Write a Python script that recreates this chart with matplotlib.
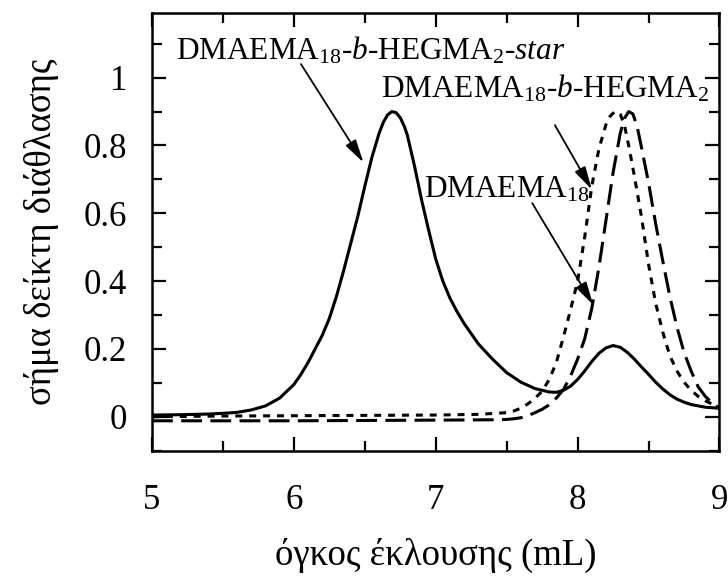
import matplotlib
matplotlib.use("Agg")
import matplotlib.pyplot as plt
from matplotlib.ticker import MultipleLocator

plt.rcParams['font.family'] = ['Liberation Serif', 'DejaVu Serif']
plt.rcParams['mathtext.fontset'] = 'custom'
plt.rcParams['mathtext.rm'] = 'Liberation Serif'
plt.rcParams['mathtext.it'] = 'Liberation Serif:italic'
plt.rcParams['lines.scale_dashes'] = False

# star copolymer (solid)
x_star = [5.0, 5.2, 5.4, 5.5, 5.6, 5.7, 5.8, 5.9, 6.0, 6.05, 6.1, 6.15, 6.2, 6.25,
          6.3, 6.35, 6.4, 6.45, 6.5, 6.55, 6.6, 6.63, 6.66, 6.69, 6.72, 6.75, 6.78,
          6.8, 6.85, 6.9, 6.95, 7.0, 7.05, 7.1, 7.15, 7.2, 7.25, 7.3, 7.4, 7.5,
          7.6, 7.7, 7.8, 7.85, 7.9, 7.95, 8.0, 8.05, 8.1, 8.15, 8.2, 8.25, 8.3,
          8.35, 8.4, 8.45, 8.5, 8.55, 8.6, 8.65, 8.7, 8.75, 8.8, 8.9, 9.0]
y_star = [0.005, 0.006, 0.008, 0.01, 0.013, 0.02, 0.032, 0.055, 0.095, 0.125, 0.16,
          0.2, 0.24, 0.29, 0.355, 0.43, 0.51, 0.59, 0.68, 0.765, 0.835, 0.868,
          0.89, 0.9, 0.897, 0.882, 0.855, 0.83, 0.74, 0.64, 0.55, 0.465, 0.4, 0.35,
          0.31, 0.275, 0.245, 0.215, 0.17, 0.13, 0.102, 0.083, 0.073, 0.072, 0.078,
          0.09, 0.11, 0.135, 0.163, 0.187, 0.203, 0.21, 0.205, 0.19, 0.17, 0.147,
          0.125, 0.102, 0.082, 0.065, 0.052, 0.043, 0.036, 0.028, 0.025]

# block copolymer (short dash)
x_block = [5.0, 5.5, 6.0, 6.5, 7.0, 7.3, 7.5, 7.55, 7.6, 7.65, 7.7, 7.75, 7.8, 7.85,
           7.9, 7.95, 8.0, 8.05, 8.1, 8.15, 8.2, 8.23, 8.26, 8.28, 8.3, 8.33, 8.36,
           8.4, 8.45, 8.5, 8.55, 8.6, 8.65, 8.7, 8.75, 8.8, 8.85, 8.9, 8.95, 9.0]
y_block = [0.0, 0.002, 0.003, 0.004, 0.005, 0.007, 0.012, 0.017, 0.025, 0.038, 0.055,
           0.075, 0.11, 0.16, 0.235, 0.315, 0.4, 0.53, 0.68, 0.79, 0.862, 0.887,
           0.899, 0.9, 0.893, 0.86, 0.8, 0.71, 0.59, 0.45, 0.335, 0.25, 0.18, 0.135,
           0.102, 0.078, 0.06, 0.047, 0.037, 0.03]

# homopolymer (long dash)
x_homo = [5.0, 5.5, 6.0, 6.5, 7.0, 7.4, 7.5, 7.55, 7.6, 7.65, 7.7, 7.75, 7.8, 7.85,
          7.9, 7.95, 8.0, 8.05, 8.1, 8.15, 8.2, 8.25, 8.3, 8.33, 8.36, 8.39, 8.42,
          8.45, 8.5, 8.55, 8.6, 8.65, 8.7, 8.75, 8.8, 8.85, 8.9, 8.95, 9.0]
y_homo = [-0.012, -0.012, -0.012, -0.011, -0.01, -0.009, -0.008, -0.006, -0.003,
          0.003, 0.012, 0.022, 0.035, 0.055, 0.08, 0.12, 0.17, 0.23, 0.32, 0.44,
          0.58, 0.72, 0.835, 0.88, 0.9, 0.893, 0.855, 0.795, 0.69, 0.57, 0.46,
          0.355, 0.265, 0.19, 0.135, 0.088, 0.06, 0.04, 0.025]

label_star = r'DMAEMA$_{18}$-$\mathit{b}$-HEGMA$_{2}$-$\mathit{star}$'
label_block = r'DMAEMA$_{18}$-$\mathit{b}$-HEGMA$_{2}$'
label_homo = r'DMAEMA$_{18}$'

fig = plt.figure(figsize=(7.28, 5.77), dpi=100)
ax = fig.add_axes([0.2088, 0.219, 0.7795, 0.758])

ax.plot(x_star, y_star, color='k', lw=2.2)
ax.plot(x_block, y_block, color='k', lw=2.2, dashes=(5, 5))
ax.plot(x_homo, y_homo, color='k', lw=2.2, dashes=(15, 6))

arrow = dict(arrowstyle='-|>,head_length=0.7,head_width=0.18', color='k', lw=1.3,
             mutation_scale=20, shrinkA=0, shrinkB=0)
ax.text(5.169, 1.053, label_star, fontsize=22.5, ha='left', va='baseline')
ax.annotate('', xy=(6.49, 0.75), xytext=(6.05, 1.04), arrowprops=arrow)
ax.text(6.615, 0.943, label_block, fontsize=22.5, ha='left', va='baseline')
ax.annotate('', xy=(8.10, 0.67), xytext=(7.84, 0.86), arrowprops=arrow)
ax.text(6.919, 0.647, label_homo, fontsize=22.5, ha='left', va='baseline')
ax.annotate('', xy=(8.11, 0.33), xytext=(7.68, 0.63), arrowprops=arrow)

ax.set_xlim(5, 9)
ax.set_ylim(-0.1, 1.19)
ax.xaxis.set_major_locator(MultipleLocator(1))
ax.xaxis.set_minor_locator(MultipleLocator(0.5))
ax.yaxis.set_major_locator(MultipleLocator(0.2))
ax.yaxis.set_minor_locator(MultipleLocator(0.1))
ax.set_yticks([0, 0.2, 0.4, 0.6, 0.8, 1.0])
ax.set_yticklabels(['0', '0.2', '0.4', '0.6', '0.8', '1'])
ax.tick_params(which='both', direction='in', top=True, right=True, width=1.6,
               labelsize=25)
ax.tick_params(which='major', length=10)
ax.tick_params(which='minor', length=7)
ax.tick_params(axis='x', which='major', pad=24)
ax.tick_params(axis='y', which='major', pad=18)
for s in ax.spines.values():
    s.set_linewidth(1.8)

ax.set_xlabel('όγκος έκλουσης (mL)', fontsize=26.5, labelpad=15)
ax.set_ylabel('σήμα δείκτη διάθλασης', fontsize=26.5, labelpad=18)

fig.savefig('out.png', dpi=100)
